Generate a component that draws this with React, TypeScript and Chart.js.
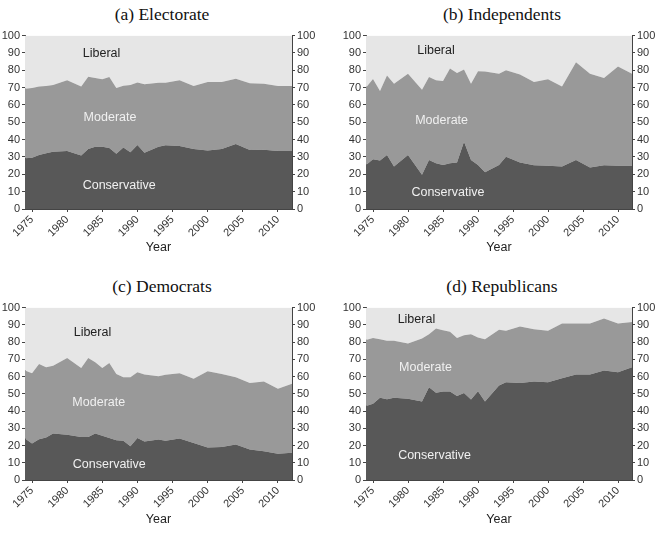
import { useEffect, useRef } from "react";
import { Chart, registerables } from "chart.js";

Chart.register(...registerables);

// Survey years (GSS waves)
const years = [
  1974, 1975, 1976, 1977, 1978, 1980, 1982, 1983, 1984, 1985, 1986, 1987, 1988, 1989,
  1990, 1991, 1993, 1994, 1996, 1998, 2000, 2002, 2004, 2006, 2008, 2010, 2012,
];
const yearTicks = [1975, 1980, 1985, 1990, 1995, 2000, 2005, 2010];
const percentTicks = [0, 10, 20, 30, 40, 50, 60, 70, 80, 90, 100];

// (a) Electorate, % by ideology
const electorateConservative = [
  29.3, 29.6, 31.2, 32.1, 33.0, 33.5, 30.8, 34.6, 35.9, 35.9, 35.2, 31.9, 35.4, 32.7,
  36.9, 32.5, 35.9, 36.7, 36.3, 34.6, 33.7, 34.6, 37.5, 34.0, 34.2, 33.5, 33.5,
];
const electorateModerate = [
  40.1, 40.2, 39.5, 38.9, 38.5, 40.7, 39.9, 41.7, 39.6, 38.9, 40.9, 37.9, 35.7, 38.8,
  36.1, 39.5, 36.9, 36.1, 37.9, 36.4, 39.5, 38.6, 37.6, 38.5, 38.1, 37.5, 37.5,
];
const electorateLiberal = [
  30.6, 30.2, 29.3, 29.0, 28.5, 25.8, 29.3, 23.7, 24.5, 25.2, 23.9, 30.2, 28.9, 28.5,
  27.0, 28.0, 27.2, 27.2, 25.8, 29.0, 26.8, 26.8, 24.9, 27.5, 27.7, 29.0, 29.0,
];

// (b) Independents
const independentConservative = [
  25.4, 28.7, 27.9, 31.2, 24.5, 31.2, 19.7, 28.3, 26.4, 25.4, 26.4, 26.8, 38.8, 28.3,
  25.4, 21.2, 25.4, 30.2, 26.8, 25.2, 25.0, 24.5, 28.3, 23.9, 25.2, 25.0, 24.9,
];
const independentModerate = [
  44.6, 46.3, 40.1, 45.8, 47.8, 46.8, 49.1, 47.8, 47.8, 48.4, 54.6, 51.6, 41.7, 44.0,
  54.1, 58.1, 52.6, 49.8, 50.8, 48.0, 49.8, 46.2, 56.4, 54.1, 50.3, 57.2, 53.1,
];
const independentLiberal = [
  30.0, 25.0, 32.0, 23.0, 27.7, 22.0, 31.2, 23.9, 25.8, 26.2, 19.0, 21.6, 19.5, 27.7,
  20.5, 20.7, 22.0, 20.0, 22.4, 26.8, 25.2, 29.3, 15.3, 22.0, 24.5, 17.8, 22.0,
];

// (c) Democrats
const democratConservative = [
  24.0, 21.2, 23.7, 24.6, 26.9, 26.3, 25.0, 25.0, 26.9, 25.6, 24.4, 23.1, 22.7, 19.6,
  24.4, 22.3, 23.5, 22.7, 24.0, 21.5, 18.8, 19.2, 20.6, 17.7, 16.7, 15.2, 15.8,
];
const democratModerate = [
  39.5, 40.7, 43.6, 40.8, 39.4, 44.5, 40.0, 45.8, 41.4, 39.4, 43.5, 38.4, 36.9, 40.0,
  38.1, 38.9, 36.7, 38.3, 37.9, 37.2, 44.3, 42.3, 39.0, 38.6, 40.4, 37.7, 40.0,
];
const democratLiberal = [
  36.5, 38.1, 32.7, 34.6, 33.7, 29.2, 35.0, 29.2, 31.7, 35.0, 32.1, 38.5, 40.4, 40.4,
  37.5, 38.8, 39.8, 39.0, 38.1, 41.3, 36.9, 38.5, 40.4, 43.7, 42.9, 47.1, 44.2,
];

// (d) Republicans
const republicanConservative = [
  42.9, 44.2, 47.7, 46.9, 47.7, 47.1, 45.6, 53.8, 50.6, 51.3, 51.3, 48.7, 50.4, 46.7,
  51.5, 45.6, 54.8, 56.7, 56.2, 57.1, 56.7, 59.0, 61.2, 61.2, 63.5, 62.5, 65.4,
];
const republicanModerate = [
  38.3, 38.1, 34.0, 33.9, 33.1, 32.1, 36.5, 30.8, 37.3, 35.6, 34.7, 33.6, 33.6, 37.9,
  31.2, 36.1, 32.3, 29.8, 32.8, 30.4, 29.8, 31.8, 29.6, 29.6, 30.2, 28.3, 26.3,
];
const republicanLiberal = [
  18.8, 17.7, 18.3, 19.2, 19.2, 20.8, 17.9, 15.4, 12.1, 13.1, 14.0, 17.7, 16.0, 15.4,
  17.3, 18.3, 12.9, 13.5, 11.0, 12.5, 13.5, 9.2, 9.2, 9.2, 6.3, 9.2, 8.3,
];

const SANS = '"Liberation Sans", Arial, Helvetica, sans-serif';
const SERIF = '"Liberation Serif", "Times New Roman", Times, serif';
const DARK = "#585858";
const MID = "#999999";
const LIGHT = "#e6e6e6";
const AXIS = "#444444";
const TEXT = "#333333";

type Spot = { x: number; y: number };

type PanelProps = {
  conservative: number[];
  moderate: number[];
  liberal: number[];
  left: number;
  top: number;
  width: number;
  height: number;
  leftAxis: number;
  rightAxis: number;
  xAxis: number;
  yearPad: number;
  liberalAt: Spot;
  moderateAt: Spot;
  conservativeAt: Spot;
};

function IdeologyPanel(p: PanelProps) {
  const ref = useRef<HTMLCanvasElement | null>(null);

  useEffect(() => {
    if (!ref.current) return;
    const series = (vals: number[]) => years.map((x, i) => ({ x, y: vals[i] }));
    const labels = [
      { text: "Liberal", color: "#222222", at: p.liberalAt },
      { text: "Moderate", color: "#f0f0f0", at: p.moderateAt },
      { text: "Conservative", color: "#f0f0f0", at: p.conservativeAt },
    ];
    const areaLabels = {
      id: "areaLabels",
      afterDatasetsDraw(chart: any) {
        const { ctx, scales } = chart;
        ctx.save();
        ctx.font = `12.5px ${SANS}`;
        ctx.textAlign = "center";
        ctx.textBaseline = "middle";
        for (const l of labels) {
          ctx.fillStyle = l.color;
          ctx.fillText(l.text, scales.x.getPixelForValue(l.at.x), scales.y.getPixelForValue(l.at.y));
        }
        ctx.restore();
      },
    };
    const grid = {
      drawOnChartArea: false,
      drawTicks: true,
      tickLength: 3,
      tickColor: AXIS,
      lineWidth: 1,
    };
    const border = { display: true, color: AXIS, width: 1 };
    const tickFont = { family: SANS, size: 11 };
    const area = (label: string, vals: number[], color: string, fill: string) => ({
      label,
      data: series(vals),
      fill,
      backgroundColor: color,
      borderColor: color,
      borderWidth: 0,
      pointRadius: 0,
      tension: 0,
    });

    const chart = new Chart(ref.current, {
      type: "line",
      data: {
        datasets: [
          area("Conservative", p.conservative, DARK, "origin"),
          area("Moderate", p.moderate, MID, "-1"),
          area("Liberal", p.liberal, LIGHT, "-1"),
        ],
      },
      options: {
        animation: false,
        responsive: false,
        maintainAspectRatio: false,
        layout: { padding: { top: 8, left: 0, right: 0, bottom: 0 } },
        plugins: {
          legend: { display: false },
          tooltip: { enabled: false },
          title: { display: false },
        },
        scales: {
          x: {
            type: "linear",
            position: "bottom",
            min: 1974,
            max: 2012,
            grid,
            border,
            afterBuildTicks: (s: any) => {
              s.ticks = yearTicks.map((value) => ({ value }));
            },
            afterFit: (s: any) => {
              s.height = p.xAxis;
            },
            ticks: {
              autoSkip: false,
              minRotation: 45,
              maxRotation: 45,
              padding: 1,
              color: TEXT,
              font: tickFont,
              callback: (v: any) => String(v),
            },
            title: {
              display: true,
              text: "Year",
              color: "#222222",
              font: { family: SANS, size: 12.5 },
              padding: { top: 0, bottom: p.yearPad },
            },
          },
          y: {
            type: "linear",
            position: "left",
            stacked: true,
            min: 0,
            max: 100,
            grid,
            border,
            afterBuildTicks: (s: any) => {
              s.ticks = percentTicks.map((value) => ({ value }));
            },
            afterFit: (s: any) => {
              s.width = p.leftAxis;
            },
            ticks: { padding: 2, color: TEXT, font: tickFont },
          },
          y2: {
            type: "linear",
            position: "right",
            min: 0,
            max: 100,
            grid,
            border,
            afterBuildTicks: (s: any) => {
              s.ticks = percentTicks.map((value) => ({ value }));
            },
            afterFit: (s: any) => {
              s.width = p.rightAxis;
            },
            ticks: { padding: 2, color: TEXT, font: tickFont },
          },
        },
      } as any,
      plugins: [areaLabels],
    });
    return () => chart.destroy();
  }, []);

  return (
    <canvas
      ref={ref}
      width={p.width}
      height={p.height}
      style={{ position: "absolute", left: p.left, top: p.top, width: p.width, height: p.height }}
    />
  );
}

function PanelTitle({ text, cx, cy }: { text: string; cx: number; cy: number }) {
  return (
    <div
      style={{
        position: "absolute",
        left: cx,
        top: cy,
        transform: "translate(-50%, -50%)",
        fontFamily: SERIF,
        fontSize: 17.5,
        color: "#111111",
        whiteSpace: "nowrap",
        lineHeight: 1,
      }}
    >
      {text}
    </div>
  );
}

export default function App() {
  return (
    <div
      style={{
        position: "absolute",
        left: 0,
        top: 0,
        width: 659,
        height: 534,
        background: "#ffffff",
        overflow: "hidden",
      }}
    >
      <PanelTitle text="(a) Electorate" cx={162} cy={15} />
      <PanelTitle text="(b) Independents" cx={502} cy={15} />
      <PanelTitle text="(c) Democrats" cx={162} cy={287} />
      <PanelTitle text="(d) Republicans" cx={502} cy={287} />

      <IdeologyPanel
        conservative={electorateConservative}
        moderate={electorateModerate}
        liberal={electorateLiberal}
        left={0}
        top={27}
        width={330}
        height={240}
        leftAxis={25}
        rightAxis={38}
        xAxis={58}
        yearPad={12}
        liberalAt={{ x: 1984.9, y: 89.5 }}
        moderateAt={{ x: 1986.1, y: 52.7 }}
        conservativeAt={{ x: 1987.4, y: 13.8 }}
      />
      <IdeologyPanel
        conservative={independentConservative}
        moderate={independentModerate}
        liberal={independentLiberal}
        left={330}
        top={27}
        width={329}
        height={240}
        leftAxis={36}
        rightAxis={27}
        xAxis={58}
        yearPad={12}
        liberalAt={{ x: 1984.0, y: 91.4 }}
        moderateAt={{ x: 1984.8, y: 51.1 }}
        conservativeAt={{ x: 1985.7, y: 9.4 }}
      />
      <IdeologyPanel
        conservative={democratConservative}
        moderate={democratModerate}
        liberal={democratLiberal}
        left={0}
        top={299}
        width={330}
        height={235}
        leftAxis={25}
        rightAxis={38}
        xAxis={54}
        yearPad={7}
        liberalAt={{ x: 1983.6, y: 85.8 }}
        moderateAt={{ x: 1984.5, y: 44.8 }}
        conservativeAt={{ x: 1986.0, y: 9.2 }}
      />
      <IdeologyPanel
        conservative={republicanConservative}
        moderate={republicanModerate}
        liberal={republicanLiberal}
        left={330}
        top={299}
        width={329}
        height={235}
        leftAxis={36}
        rightAxis={27}
        xAxis={54}
        yearPad={7}
        liberalAt={{ x: 1981.2, y: 93.2 }}
        moderateAt={{ x: 1982.5, y: 65.0 }}
        conservativeAt={{ x: 1983.8, y: 14.4 }}
      />
    </div>
  );
}
